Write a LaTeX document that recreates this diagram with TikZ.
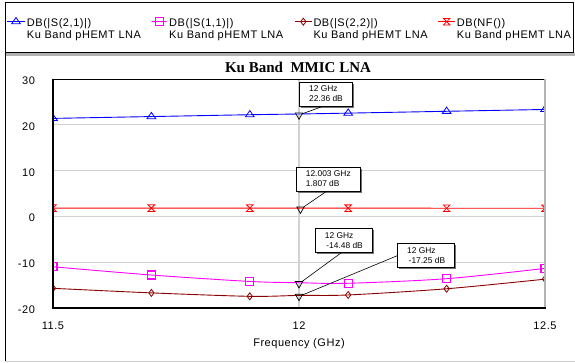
\documentclass[tikz,border=0pt]{standalone}
\usepackage{fontspec}
\setmainfont{Liberation Sans}[LetterSpace=5]
\newfontfamily\boxfont{Liberation Sans}
\newfontfamily\titlefont{Liberation Serif}
\usetikzlibrary{positioning, shapes.geometric, shadows, plotmarks}
\definecolor{sdark}{RGB}{139,0,0}
\definecolor{pink}{RGB}{255,0,255}
\pgfdeclareplotmark{hourglass}{%
	\pgfpathmoveto{\pgfqpoint{-\pgfplotmarksize}{\pgfplotmarksize}}%
	\pgfpathlineto{\pgfqpoint{\pgfplotmarksize}{\pgfplotmarksize}}%
	\pgfpathlineto{\pgfqpoint{-\pgfplotmarksize}{-\pgfplotmarksize}}%
	\pgfpathlineto{\pgfqpoint{\pgfplotmarksize}{-\pgfplotmarksize}}%
	\pgfpathclose
	\pgfusepathqstroke}
\tikzset{%
	gridline/.style = {gray!35, line width = 1.2pt},
	s21/.style = {blue, line width = 0.9pt},
	s11/.style = {pink, line width = 0.9pt},
	s22/.style = {sdark, line width = 0.9pt},
	nf/.style = {red, line width = 0.9pt},
	tri/.style = {mark = triangle, mark size = 4.2pt, mark options = {xscale = 1.2, line width = 0.8pt}},
	sq/.style = {mark = square, mark size = 4pt, mark options = {line width = 1.1pt}},
	dia/.style = {mark = diamond, mark size = 3.5pt, mark options = {line width = 0.8pt}},
	hg/.style = {mark = hourglass, mark size = 3.3pt, mark options = {line width = 0.8pt}},
	lbl/.style = {font = \fontsize{11}{10}\selectfont},
	leg/.style = {lbl, anchor = north west, align = left, inner sep = 0pt},
	mkr/.style = {name = #1, regular polygon, regular polygon sides = 3, shape border rotate = 180, draw, line width = 0.7pt, minimum size = 8.5pt, inner sep = 0pt, yshift = -1pt},
	readout/.style = {name = #1, draw, fill = white, line width = 0.8pt, align = left, anchor = north west, inner xsep = 9.5pt, inner ysep = 4pt, font = \boxfont\fontsize{8.4}{10}\selectfont, drop shadow = {shadow xshift = 1.5pt, shadow yshift = -1.5pt, fill = black!55, opacity = 1}},
	pointer/.style = {line width = 0.6pt}
}

\begin{document}
\begin{tikzpicture}[x=1pt, y=-1pt]
	\useasboundingbox (0,0) rectangle (575,362);
	% legend and panel
	\fill [gray!60] (5,52.5) rectangle (575,55.5);
	\draw [line width = 0.8pt] (5.5,2.5) rectangle (573.5,52.5);
	\draw [line width = 1pt] (5.5,2) -- (5.5,361);
	\draw [gray!40, line width = 1pt] (5,361) -- (575,361);
	\draw [s21] plot [tri, mark indices = {2}] coordinates {(7.3,21.7) (16,21.7) (25,21.7)};
	\draw [s11] plot [sq, mark indices = {2}] coordinates {(151.7,21.7) (159.5,21.5) (166.7,21.7)};
	\draw [s22] plot [dia, mark indices = {2}] coordinates {(295,21.7) (303.3,21.7) (311.7,21.7)};
	\draw [nf] plot [hg, mark indices = {2}] coordinates {(438.3,21.7) (446.7,21.7) (455,21.7)};
	\node [leg] (l21) at (26.7,18.7) {DB(|S(2,1)|)\\Ku Band pHEMT LNA};
	\node [leg] (l11) at (169,18.7) {DB(|S(1,1)|)\\Ku Band pHEMT LNA};
	\node [leg] (l22) at (313.3,18.7) {DB(|S(2,2)|)\\Ku Band pHEMT LNA};
	\node [leg] (lnf) at (456.7,18.7) {DB(NF())\\Ku Band pHEMT LNA};
	% title and axis labels
	\node (title) at (298,67.3) {\titlefont\bfseries\fontsize{15}{15}\selectfont Ku Band\ \ MMIC LNA};
	\node [lbl, anchor = east] (y30) at (38.5,80.8) {30};
	\node [lbl, anchor = east] (y20) at (38.5,126.6) {20};
	\node [lbl, anchor = east] (y10) at (38.5,172.4) {10};
	\node [lbl, anchor = east] (y0) at (38.5,218.2) {0};
	\node [lbl, anchor = east] (ym10) at (38.5,264) {-10};
	\node [lbl, anchor = east] (ym20) at (38.5,309.8) {-20};
	\node [lbl] (x115) at (53,326) {11.5};
	\node [lbl] (x12) at (299,326) {12};
	\node [lbl] (x125) at (545,326) {12.5};
	\node [lbl] (xlabel) at (299,343.3) {Frequency (GHz)};
	\begin{scope}[shift = {(-5605,216.4)}, x = 492pt, y = 4.58pt]
		\draw [gridline] (11.5,20) -- (12.5,20);
		\draw [gridline] (11.5,10) -- (12.5,10);
		\draw [gridline] (11.5,0) -- (12.5,0);
		\draw [gridline] (11.5,-10) -- (12.5,-10);
		\draw [gridline] (12,-20) -- (12,30);
		\begin{scope}
			\clip (11.5,-20) rectangle (12.5,30);
			\draw [s21] plot [smooth] coordinates {(11.5,21.4) (11.7,21.8) (11.9,22.2) (12,22.36) (12.1,22.55) (12.3,22.95) (12.5,23.35)};
			\draw [s21] plot [only marks, tri] coordinates {(11.5,21.4) (11.7,21.8) (11.9,22.2) (12.1,22.55) (12.3,22.95) (12.5,23.35)};
			\draw [nf] plot [smooth] coordinates {(11.5,1.82) (11.7,1.81) (11.9,1.81) (12.003,1.807) (12.1,1.8) (12.3,1.79) (12.5,1.78)};
			\draw [nf] plot [only marks, hg] coordinates {(11.5,1.82) (11.7,1.81) (11.9,1.81) (12.1,1.8) (12.3,1.79) (12.5,1.78)};
			\draw [s11] plot [smooth] coordinates {(11.5,-11.0) (11.7,-12.8) (11.9,-14.2) (12,-14.48) (12.1,-14.6) (12.3,-13.6) (12.5,-11.35)};
			\draw [s11] plot [only marks, sq] coordinates {(11.5,-11.0) (11.7,-12.8) (11.9,-14.2) (12.1,-14.6) (12.3,-13.6) (12.5,-11.35)};
			\draw [s22] plot [smooth] coordinates {(11.5,-15.7) (11.7,-16.7) (11.9,-17.45) (12,-17.25) (12.1,-17.15) (12.3,-15.8) (12.5,-13.7)};
			\draw [s22] plot [only marks, dia] coordinates {(11.5,-15.7) (11.7,-16.7) (11.9,-17.45) (12.1,-17.15) (12.3,-15.8) (12.5,-13.7)};
		\end{scope}
		\node [mkr = m1] at (12,22.36) {};
		\node [mkr = m2] at (12.003,1.807) {};
		\node [mkr = m3] at (12,-14.48) {};
		\node [mkr = m4] at (12,-17.25) {};
	\end{scope}
	% plot frame
	\draw [line width = 0.8pt] (53,79) -- (545,79);
	\draw [gray!60, line width = 1.5pt] (545,79) -- (545,308);
	\draw [line width = 1.5pt] (53,78.6) -- (53,308) -- (545.7,308);
	% readouts
	\node [readout = b1] at (299.3,81.7) {12 GHz\\22.36 dB};
	\node [readout = b2] at (296,166.7) {12.003 GHz\\1.807 dB};
	\node [readout = b3] at (315,228.3) {12 GHz\\\hspace{1.5pt}-14.48 dB};
	\node [readout = b4] at (397.3,243.3) {12 GHz\\\hspace{1.5pt}-17.25 dB};
	\draw [pointer] (m1) -- ([xshift = -3.5pt]b1.south);
	\draw [pointer] (m2) -- ([xshift = -2pt]b2.south);
	\draw [pointer] (m3) -- ([xshift = -3pt]b3.south);
	\draw [pointer] (m4) -- (b4.west);
\end{tikzpicture}
\end{document}
